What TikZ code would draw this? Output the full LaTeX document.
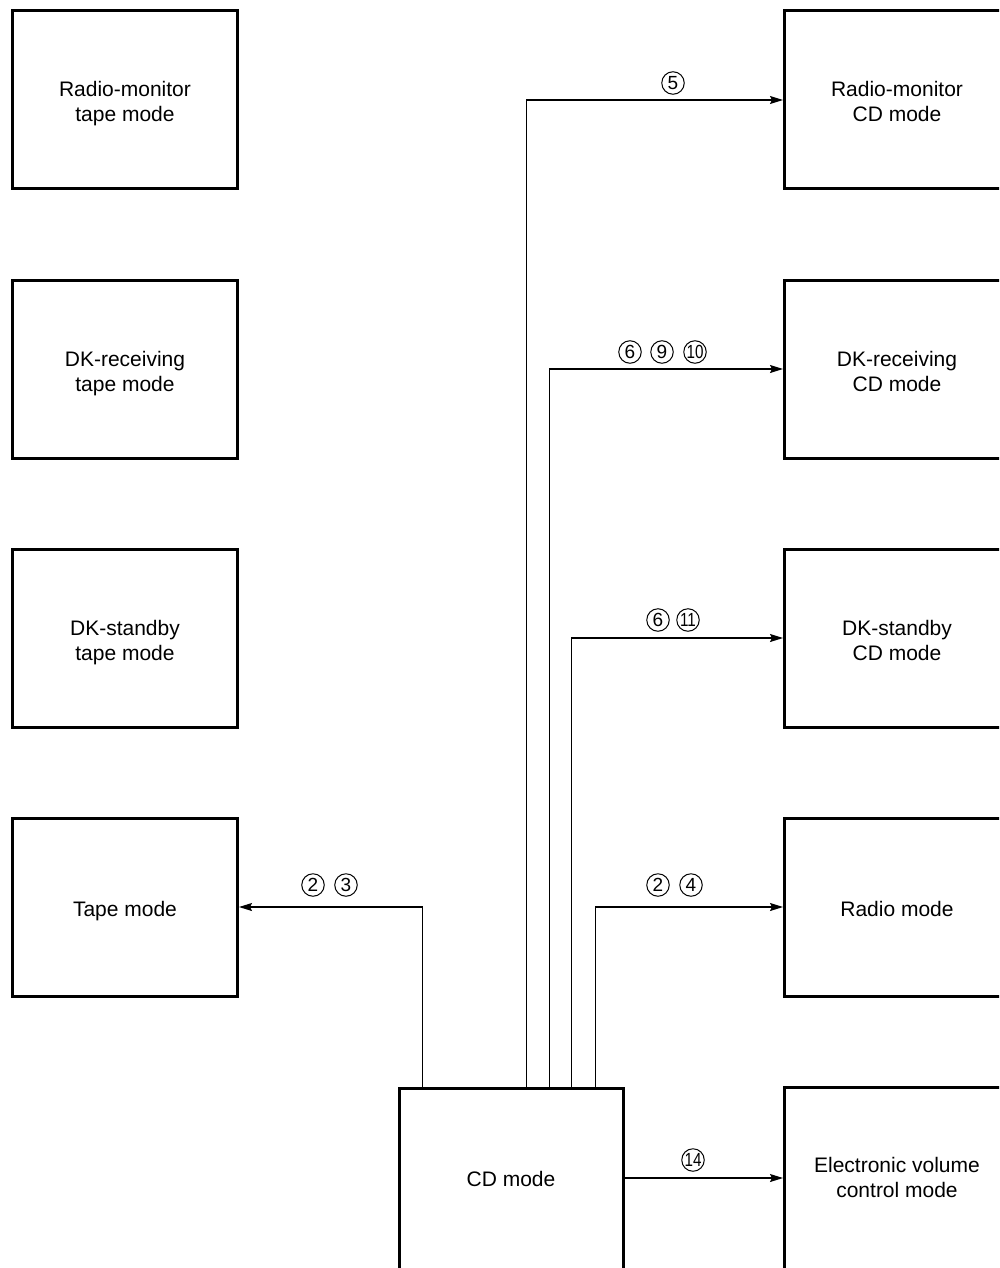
\documentclass[tikz,border=0pt]{standalone}
\usepackage{fontspec}
\usepackage{graphicx}
\setmainfont{Liberation Sans}
\usetikzlibrary{arrows.meta}
% box caption: centred lines, set a little below the middle of the box
\newcommand\boxtext[2][4.5pt]{\raisebox{-#1}[\height][\depth]{\begin{tabular}{@{}c@{}}#2\end{tabular}}}
\begin{document}
\begin{tikzpicture}[x=1pt,y=-1pt,
  modebox/.style={draw, line width=3pt, minimum width=225pt, minimum height=178pt,
    inner sep=0pt, font=\fontsize{21}{25}\selectfont},
  link/.style={line width=1.2pt, -{Stealth[length=13pt,width=8pt,inset=2pt]}},
  num/.style={circle, draw, line width=1pt, minimum size=22.5pt, inner sep=0pt,
    font=\fontsize{19}{19}\selectfont}
]
\useasboundingbox (0,0) rectangle (999,1268);
\clip (0,0) rectangle (999,1268);

% tape-side modes
\node[modebox] (rmtape) at (125,100)  {\boxtext{Radio-monitor\\tape mode}};
\node[modebox] (dkrtape) at (125,369) {\boxtext{DK-receiving\\tape mode}};
\node[modebox] (dkstape) at (125,638) {\boxtext{DK-standby\\tape mode}};
\node[modebox] (tape) at (125,907)    {\boxtext{Tape mode}};

% CD-side modes
\node[modebox] (rmcd) at (897,100)  {\boxtext{Radio-monitor\\CD mode}};
\node[modebox] (dkrcd) at (897,369) {\boxtext{DK-receiving\\CD mode}};
\node[modebox] (dkscd) at (897,638) {\boxtext{DK-standby\\CD mode}};
\node[modebox] (radio) at (897,907) {\boxtext{Radio mode}};
\node[modebox, minimum height=186pt] (evol) at (897,1180) {\boxtext[0pt]{Electronic volume\\control mode}};

% current mode
\node[modebox, minimum width=224pt, minimum height=186pt] (cd) at (511,1181) {\boxtext[0pt]{CD mode}};

% transitions out of CD mode
\draw[link] ([xshift=25pt]cd.north west)  |- (tape.east);
\draw[link] ([xshift=129pt]cd.north west) |- (rmcd.west);
\draw[link] ([xshift=152pt]cd.north west) |- (dkrcd.west);
\draw[link] ([xshift=174pt]cd.north west) |- (dkscd.west);
\draw[link] ([xshift=198pt]cd.north west) |- (radio.west);
\draw[link] ([yshift=3pt]cd.east) -- ([yshift=3pt]cd.east -| evol.west);

% condition numbers
\node[num] (c5) at (673,83) {5};
\node[num] (c6a) at (630,352) {6};
\node[num] (c9) at (662,352) {9};
\node[num] (c10) at (695,352) {\scalebox{0.8}[1]{10}};
\node[num] (c6b) at (658,620) {6};
\node[num] (c11) at (688,620) {\scalebox{0.8}[1]{11}};
\node[num] (c2a) at (313,885) {2};
\node[num] (c3) at (346,885) {3};
\node[num] (c2b) at (658,885) {2};
\node[num] (c4) at (691,885) {4};
\node[num] (c14) at (693,1160) {\scalebox{0.8}[1]{14}};
\end{tikzpicture}
\end{document}
